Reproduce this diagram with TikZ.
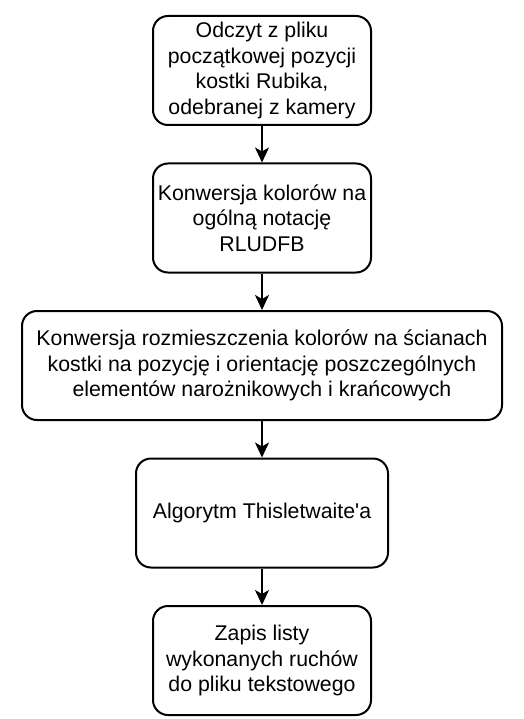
\documentclass[tikz,border=0pt]{standalone}
\usepackage{fontspec}
\setmainfont{Liberation Sans}
\usetikzlibrary{arrows.meta, positioning}

\begin{document}
\begin{tikzpicture}[>={Stealth[length=15pt, width=14pt, inset=4pt]},
  font=\fontsize{21.3}{25.6}\selectfont, align=center,
  line width=2pt, node distance=36.5pt,
  krok/.style={draw, rounded corners=15pt, inner sep=0pt, minimum height=109pt}]
  \useasboundingbox (0,0) rectangle (523pt,-719pt);

  \node[krok, minimum width=218pt] (odczyt) at (262pt,-70.5pt)
    {Odczyt z pliku\\początkowej pozycji\\kostki Rubika,\\odebranej z kamery};
  \node[krok, minimum width=218pt, below=of odczyt] (notacja)
    {Konwersja kolorów na\\ogólną notację\\RLUDFB};
  \node[krok, minimum width=480pt, below=of notacja] (elementy)
    {Konwersja rozmieszczenia kolorów na ścianach\\kostki na pozycję i orientację poszczególnych\\elementów narożnikowych i krańcowych};
  \node[krok, minimum width=252pt, below=of elementy] (algorytm)
    {Algorytm Thisletwaite\textquotesingle a};
  \node[krok, minimum width=218pt, below=of algorytm] (zapis)
    {Zapis listy\\wykonanych ruchów\\do pliku tekstowego};

  \draw[->] (odczyt) -- (notacja);
  \draw[->] (notacja) -- (elementy);
  \draw[->] (elementy) -- (algorytm);
  \draw[->] (algorytm) -- (zapis);
\end{tikzpicture}
\end{document}
